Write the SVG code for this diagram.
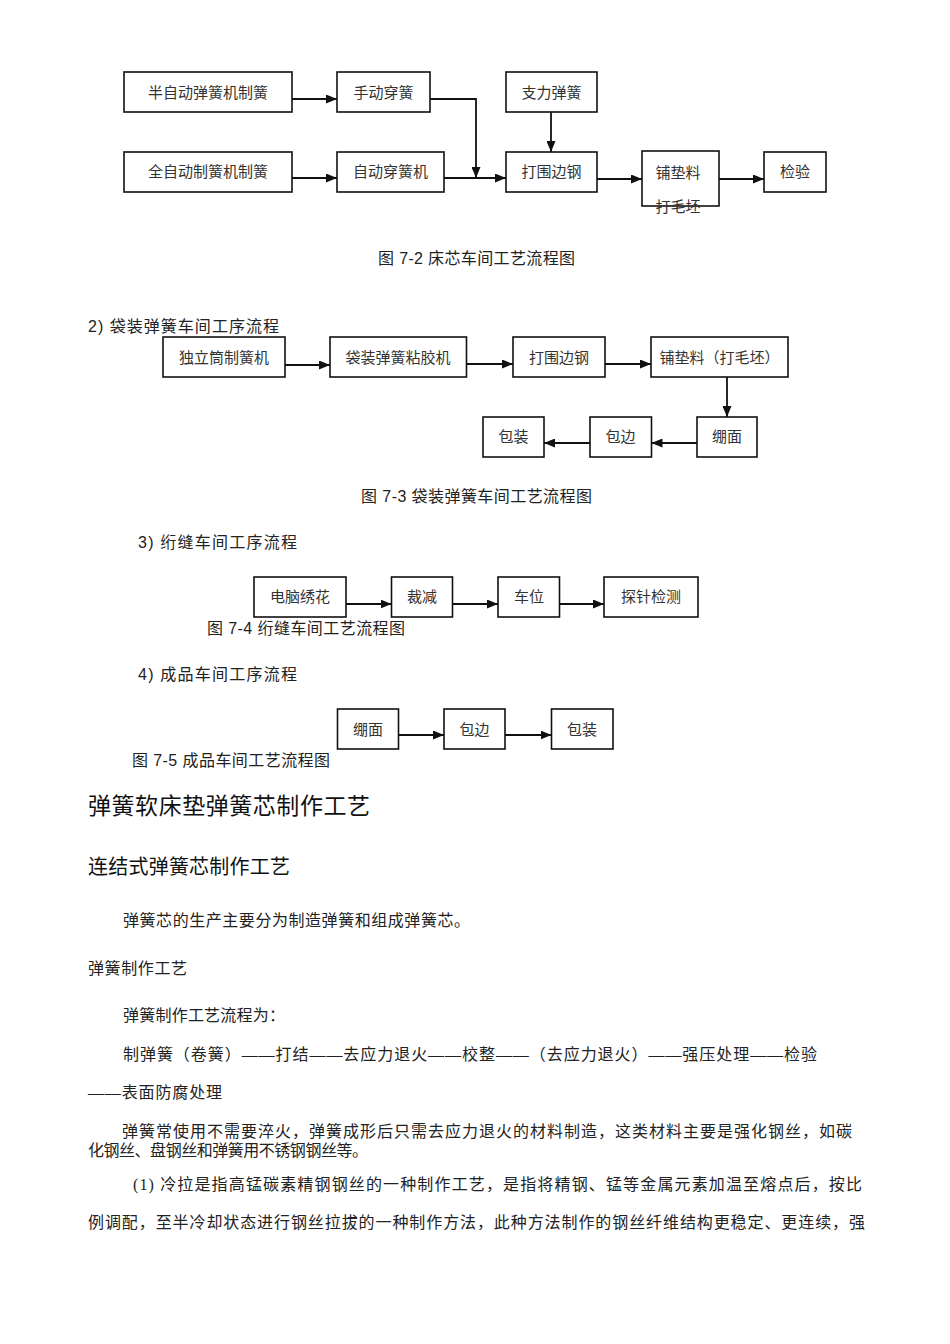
<svg xmlns="http://www.w3.org/2000/svg" width="950" height="1344" viewBox="0 0 950 1344">
<defs>
<style>
.box{fill:#fff;stroke:#111;stroke-width:1.6}
.bt{font-family:"Liberation Serif","Noto Sans CJK SC",serif;font-size:15px;fill:#333;text-anchor:middle}
.cap{font-family:"Liberation Sans","Noto Sans CJK SC",sans-serif;font-size:16px;fill:#222}
.body{font-family:"Liberation Serif","Noto Sans CJK SC",serif;font-size:16px;fill:#222}
.h1{font-family:"Liberation Sans","Noto Sans CJK SC",sans-serif;font-size:23px;fill:#111}
.h2{font-family:"Liberation Sans","Noto Sans CJK SC",sans-serif;font-size:20px;fill:#111}
.con{fill:none;stroke:#111;stroke-width:1.8}
</style>
<marker id="ah" markerUnits="userSpaceOnUse" markerWidth="11" markerHeight="9" refX="11" refY="4.5" orient="auto">
<path d="M0,0 L11,4.5 L0,9 z" fill="#111"/>
</marker>
</defs>
<rect width="950" height="1344" fill="#fff"/>

<!-- Diagram 7-2 -->
<g id="n-banzidong"><rect class="box" x="124" y="72" width="168" height="40"/><text class="bt" x="208" y="98">半自动弹簧机制簧</text></g>
<g id="n-shoudong"><rect class="box" x="337" y="72" width="93" height="40"/><text class="bt" x="383.5" y="98">手动穿簧</text></g>
<g id="n-zhili"><rect class="box" x="506" y="72" width="91" height="40"/><text class="bt" x="551.5" y="98">支力弹簧</text></g>
<g id="n-quanzidong"><rect class="box" x="124" y="152" width="168" height="40"/><text class="bt" x="208" y="177">全自动制簧机制簧</text></g>
<g id="n-zidongchuan"><rect class="box" x="337" y="152" width="107" height="40"/><text class="bt" x="390.5" y="177">自动穿簧机</text></g>
<g id="n-daweibiangang1"><rect class="box" x="506" y="152" width="91" height="40"/><text class="bt" x="551.5" y="177">打围边钢</text></g>
<g id="n-pudianliao1"><rect class="box" x="642" y="151" width="77" height="55"/><text class="bt" x="678" y="178">铺垫料</text><text class="bt" x="678" y="212">打毛坯</text></g>
<g id="n-jianyan"><rect class="box" x="764" y="152" width="62" height="40"/><text class="bt" x="795" y="177">检验</text></g>
<text class="cap" x="378" y="264" textLength="197">图 7-2 床芯车间工艺流程图</text>

<!-- Diagram 7-3 -->
<text class="cap" x="88" y="332" textLength="191">2)  袋装弹簧车间工序流程</text>
<g id="n-duli"><rect class="box" x="163" y="337" width="122" height="40"/><text class="bt" x="224" y="362.5">独立筒制簧机</text></g>
<g id="n-daizhuang"><rect class="box" x="330" y="337" width="136.5" height="40"/><text class="bt" x="398" y="362.5">袋装弹簧粘胶机</text></g>
<g id="n-daweibiangang2"><rect class="box" x="513" y="337" width="92" height="40"/><text class="bt" x="559" y="362.5">打围边钢</text></g>
<g id="n-pudianliao2"><rect class="box" x="651" y="337" width="137" height="40"/><text class="bt" x="719.5" y="362.5">铺垫料（打毛坯）</text></g>
<g id="n-bengmian2"><rect class="box" x="697" y="417" width="60" height="40"/><text class="bt" x="727" y="442">绷面</text></g>
<g id="n-baobian2"><rect class="box" x="590" y="417" width="61.5" height="40"/><text class="bt" x="620.5" y="442">包边</text></g>
<g id="n-baozhuang2"><rect class="box" x="483" y="417" width="61" height="40"/><text class="bt" x="513.5" y="442">包装</text></g>
<text class="cap" x="361" y="502" textLength="231">图 7-3 袋装弹簧车间工艺流程图</text>

<!-- Diagram 7-4 -->
<text class="cap" x="138" y="548" textLength="159">3)  绗缝车间工序流程</text>
<g id="n-diannao"><rect class="box" x="254" y="577" width="92" height="40"/><text class="bt" x="300" y="601.5">电脑绣花</text></g>
<g id="n-caijian"><rect class="box" x="391.5" y="577" width="61" height="40"/><text class="bt" x="422" y="601.5">裁减</text></g>
<g id="n-chewei"><rect class="box" x="498" y="577" width="61.5" height="40"/><text class="bt" x="529" y="601.5">车位</text></g>
<g id="n-tanzhen"><rect class="box" x="604" y="577" width="94" height="40"/><text class="bt" x="651" y="601.5">探针检测</text></g>
<text class="cap" x="207" y="634" textLength="198">图 7-4 绗缝车间工艺流程图</text>

<!-- Diagram 7-5 -->
<text class="cap" x="138" y="680" textLength="159">4)  成品车间工序流程</text>
<g id="n-bengmian4"><rect class="box" x="337.5" y="709" width="61" height="40"/><text class="bt" x="368" y="735">绷面</text></g>
<g id="n-baobian4"><rect class="box" x="444" y="709" width="61" height="40"/><text class="bt" x="474.5" y="735">包边</text></g>
<g id="n-baozhuang4"><rect class="box" x="551.5" y="709" width="61.5" height="40"/><text class="bt" x="582" y="735">包装</text></g>
<text class="cap" x="132" y="766" textLength="198">图 7-5 成品车间工艺流程图</text>

<!-- Connectors -->
<g id="connectors">
<line class="con" x1="292" y1="99" x2="337" y2="99" marker-end="url(#ah)"/>
<polyline class="con" points="430,99 476,99 476,178" marker-end="url(#ah)"/>
<line class="con" x1="292" y1="178" x2="337" y2="178" marker-end="url(#ah)"/>
<line class="con" x1="444" y1="178" x2="506" y2="178" marker-end="url(#ah)"/>
<line class="con" x1="551" y1="112" x2="551" y2="152" marker-end="url(#ah)"/>
<line class="con" x1="597" y1="179" x2="642" y2="179" marker-end="url(#ah)"/>
<line class="con" x1="719" y1="179" x2="764" y2="179" marker-end="url(#ah)"/>

<line class="con" x1="285" y1="365" x2="330" y2="365" marker-end="url(#ah)"/>
<line class="con" x1="466.5" y1="364" x2="513" y2="364" marker-end="url(#ah)"/>
<line class="con" x1="605" y1="364" x2="651" y2="364" marker-end="url(#ah)"/>
<line class="con" x1="727" y1="377" x2="727" y2="417" marker-end="url(#ah)"/>
<line class="con" x1="697" y1="443" x2="651.5" y2="443" marker-end="url(#ah)"/>
<line class="con" x1="590" y1="443" x2="544" y2="443" marker-end="url(#ah)"/>

<line class="con" x1="346" y1="604" x2="391.5" y2="604" marker-end="url(#ah)"/>
<line class="con" x1="452.5" y1="604" x2="498" y2="604" marker-end="url(#ah)"/>
<line class="con" x1="559.5" y1="604" x2="604" y2="604" marker-end="url(#ah)"/>

<line class="con" x1="398.5" y1="735" x2="444" y2="735" marker-end="url(#ah)"/>
<line class="con" x1="505" y1="735" x2="551.5" y2="735" marker-end="url(#ah)"/>
</g>

<!-- Text section -->
<text class="h1" x="88" y="814" textLength="282">弹簧软床垫弹簧芯制作工艺</text>
<text class="h2" x="88" y="874" textLength="202">连结式弹簧芯制作工艺</text>
<text class="body" x="123" y="926" textLength="347">弹簧芯的生产主要分为制造弹簧和组成弹簧芯。</text>
<text class="body" x="88" y="974" textLength="99">弹簧制作工艺</text>
<text class="body" x="123" y="1021" textLength="162">弹簧制作工艺流程为：</text>
<text class="body" x="123" y="1060" textLength="694">制弹簧（卷簧）——打结——去应力退火——校整——（去应力退火）——强压处理——检验</text>
<text class="body" x="88" y="1098" textLength="134">——表面防腐处理</text>
<text class="body" x="122" y="1137" textLength="730">弹簧常使用不需要淬火，弹簧成形后只需去应力退火的材料制造，这类材料主要是强化钢丝，如碳</text>
<text class="body" x="88" y="1156" textLength="280">化钢丝、盘钢丝和弹簧用不锈钢钢丝等。</text>
<text class="body" x="133" y="1190" textLength="729">(1)  冷拉是指高锰碳素精钢钢丝的一种制作工艺，是指将精钢、锰等金属元素加温至熔点后，按比</text>
<text class="body" x="88" y="1228" textLength="777">例调配，至半冷却状态进行钢丝拉拔的一种制作方法，此种方法制作的钢丝纤维结构更稳定、更连续，强</text>
</svg>
